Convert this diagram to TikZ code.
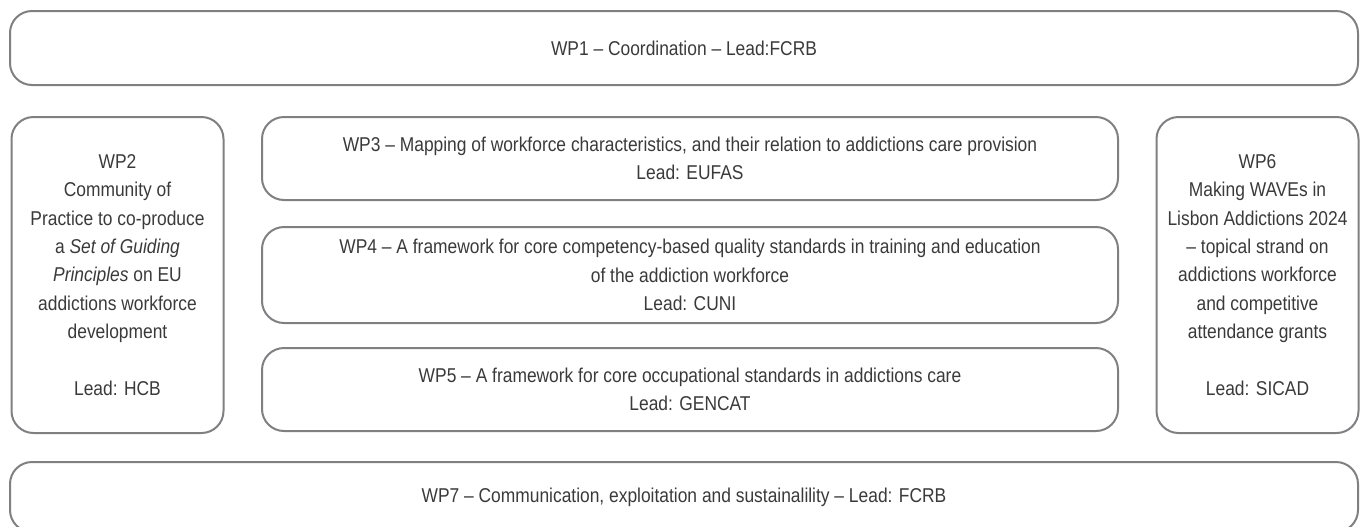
\documentclass[tikz,border=0pt]{standalone}
\usepackage{fontspec}
\setmainfont{Liberation Sans}[FakeStretch=0.87]
\usetikzlibrary{positioning}
\definecolor{boxLine}{RGB}{128,128,131}
\definecolor{boxText}{RGB}{58,58,58}
\tikzset{
    objRoundRectangle/.style={rectangle, rounded corners=11pt, draw=boxLine, line width=1pt, text=boxText, align=center, inner sep=0pt, outer sep=0pt, font=\fontsize{10}{14.15}\selectfont},
    objWideRectangle/.style={objRoundRectangle, minimum width=674pt},
    objSideRectangle/.style={objRoundRectangle, minimum height=158pt},
    objMidRectangle/.style={objRoundRectangle, minimum width=428pt}
}
\begin{document}
\begin{tikzpicture}[x=0.5pt, y=-0.5pt]
    \clip (0,0) rectangle (1360,526);

    \node (wp1) [objWideRectangle, minimum height=37pt] at (684,48) {WP1 -- Coordination -- Lead:FCRB};

    \node (wp2) [objSideRectangle, minimum width=106pt] at (117.5,275) {WP2\\Community of\\Practice to co-produce\\a \textit{Set of Guiding}\\\textit{Principles} on EU\\addictions workforce\\development\\[14.15pt]Lead: HCB};

    \node (wp3) [objMidRectangle, minimum height=41.5pt] at (690,158.5) {WP3 -- Mapping of workforce characteristics, and their relation to addictions care provision\\Lead: EUFAS};
    \node (wp4) [objMidRectangle, minimum height=48pt, below=13.5pt of wp3] {WP4 -- A framework for core competency-based quality standards in training and education\\of the addiction workforce\\Lead: CUNI};
    \node (wp5) [objMidRectangle, minimum height=41.5pt, below=12.5pt of wp4] {WP5 -- A framework for core occupational standards in addictions care\\Lead: GENCAT};

    \node (wp6) [objSideRectangle, minimum width=101pt] at (1257.5,275) {WP6\\Making WAVEs in\\Lisbon Addictions 2024\\-- topical strand on\\addictions workforce\\and competitive\\attendance grants\\[14.15pt]Lead: SICAD};

    \node (wp7) [objWideRectangle, minimum height=35pt] at (684,497) {WP7 -- Communication, exploitation and sustainalility -- Lead: FCRB};
\end{tikzpicture}
\end{document}
